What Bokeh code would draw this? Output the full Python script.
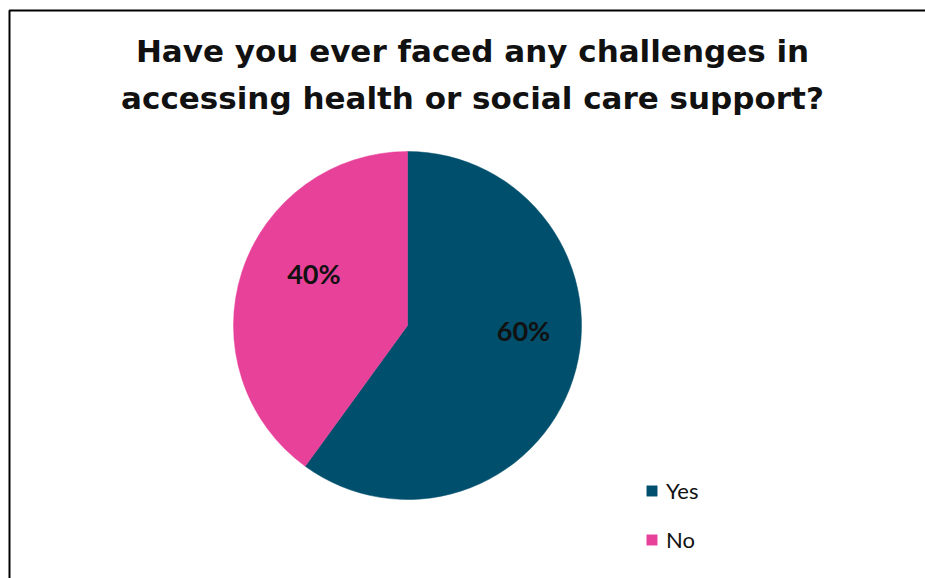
import math
from bokeh.plotting import figure
from bokeh.models import Range1d, Label, Legend, LegendItem, BoxAnnotation
from bokeh.embed import file_html
from bokeh.resources import INLINE

title_lines = ["Have you ever faced any challenges in", "accessing health or social care support?"]
categories = ["Yes", "No"]
values = [60, 40]
colors = ["#004F6C", "#E8419A"]

W, H = 925, 578
p = figure(width=W, height=H, output_backend="svg", toolbar_location=None,
           x_range=Range1d(0, W), y_range=Range1d(0, H), min_border=0)
p.axis.visible = False
p.grid.visible = False
p.outline_line_color = None
p.background_fill_color = "white"

# chart frame (only top and left edges fall inside the picture)
p.add_layout(BoxAnnotation(left=9, right=W + 20, top=H - 10, bottom=-20,
                           fill_alpha=0, line_color="#000000", line_alpha=1.0, line_width=2))

cx, cy, r = 407, H - 325, 174
total = sum(values)
starts, ends, mids = [], [], []
a = math.pi / 2
for v in values:
    sweep = 2 * math.pi * v / total
    starts.append(a)
    ends.append(a - sweep)
    mids.append(a - sweep / 2)
    a -= sweep

rends = []
for i in range(len(values)):
    rr = p.wedge(x=cx, y=cy, radius=r, start_angle=starts[i], end_angle=ends[i],
                 direction="clock", fill_color=colors[i], line_color=colors[i], line_width=0.5)
    rends.append(rr)

# label placement (radius fraction, angle nudge in degrees)
label_place = [(0.667, 15.5), (0.615, -11.0)]
for i, v in enumerate(values):
    fr, nudge = label_place[i]
    ang = mids[i] + math.radians(nudge)
    lx = cx + fr * r * math.cos(ang)
    ly = cy + fr * r * math.sin(ang)
    p.add_layout(Label(x=lx, y=ly, text=f"{v}%", text_align="center", text_baseline="middle",
                       text_font="Lato", text_font_style="bold", text_font_size="27px",
                       text_color="#111111"))

for j, t in enumerate(title_lines):
    p.add_layout(Label(x=472, y=H - 50 - j * 47, text=t, text_align="center", text_baseline="middle",
                       text_font="DejaVu Sans", text_font_style="bold", text_font_size="31px",
                       text_color="#111111"))

legend = Legend(items=[LegendItem(label=categories[i], renderers=[rends[i]]) for i in range(len(values))],
                location=(645, 25), orientation="vertical", border_line_color=None,
                background_fill_alpha=0, glyph_width=13, glyph_height=13, spacing=22,
                label_text_font="Lato", label_text_font_size="22px", label_text_color="#111111",
                label_standoff=8, padding=0, margin=0, label_height=22)
p.add_layout(legend)

open("out.html", "w").write(file_html(p, INLINE))
